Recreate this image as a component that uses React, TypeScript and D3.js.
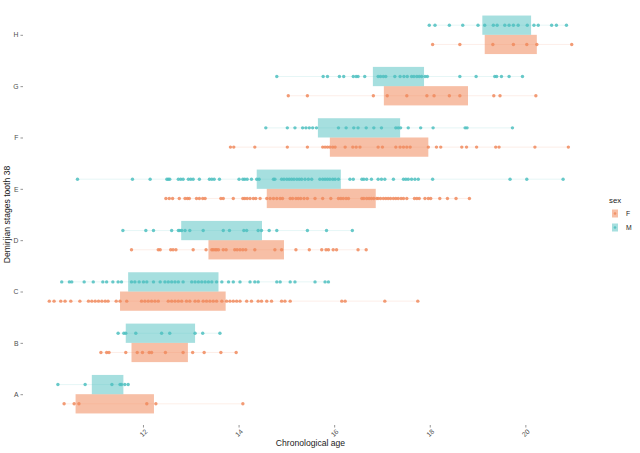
import { useEffect, useRef } from 'react';
import * as d3 from 'd3';

// Demirjian stage of tooth 38 vs chronological age, split by sex
const stages = ['A', 'B', 'C', 'D', 'E', 'F', 'G', 'H'];
const sexes = ['F', 'M'];
const xTicks = [12, 14, 16, 18, 20];

// box extents (lower / upper) per stage
const femaleBoxLow = [10.59, 11.76, 11.52, 13.37, 14.59, 15.91, 17.04, 19.15];
const femaleBoxHigh = [12.23, 12.94, 13.73, 14.95, 16.87, 17.97, 18.8, 20.24];
const maleBoxLow = [10.93, 11.64, 11.69, 12.8, 14.38, 15.66, 16.81, 19.1];
const maleBoxHigh = [11.59, 13.09, 13.58, 14.49, 16.14, 17.38, 17.88, 20.12];

// individual ages
const agesFA = [10.35, 10.56, 10.66, 12.08, 12.27, 14.09];
const agesMA = [10.22, 10.79, 11.35, 11.52, 11.55, 11.62, 11.69];
const agesFB = [11.12, 11.24, 11.29, 11.64, 11.88, 11.99, 12.13, 12.18, 12.47, 12.84, 13.04, 13.28, 13.63, 13.95];
const agesMB = [11.48, 11.6, 11.64, 11.85, 12.39, 12.56, 13.09, 13.25, 13.61];
const agesFC = [10.04, 10.14, 10.28, 10.37, 10.49, 10.68, 10.86, 10.93, 11.0, 11.07, 11.14, 11.21, 11.27, 11.44, 11.52, 11.66, 11.97, 12.04, 12.11, 12.18, 12.25, 12.32, 12.53, 12.6, 12.67, 12.74, 12.81, 12.91, 12.98, 13.09, 13.16, 13.26, 13.33, 13.4, 13.47, 13.54, 13.65, 13.75, 13.82, 13.89, 13.96, 14.03, 14.17, 14.27, 14.41, 14.48, 14.59, 14.69, 14.9, 14.97, 15.08, 16.16, 16.23, 17.06, 17.75];
const agesMC = [10.3, 10.46, 10.51, 10.77, 10.96, 11.16, 11.24, 11.37, 11.48, 11.55, 11.76, 11.83, 11.92, 12.01, 12.08, 12.22, 12.36, 12.46, 12.53, 12.6, 12.67, 12.74, 12.84, 13.02, 13.09, 13.16, 13.23, 13.3, 13.37, 13.44, 13.54, 13.65, 13.79, 13.89, 14.03, 14.24, 14.34, 14.41, 14.8, 14.87, 15.08, 15.18, 15.6, 15.81, 15.88];
const agesFD = [11.76, 12.32, 12.36, 12.58, 12.63, 12.69, 13.05, 13.32, 13.44, 13.47, 13.51, 13.54, 13.58, 13.68, 13.74, 13.92, 13.97, 14.03, 14.09, 14.15, 14.34, 14.76, 14.9, 15.2, 15.48, 15.74, 15.83, 15.88, 15.98, 16.05, 16.5, 16.67];
const agesMD = [11.58, 12.06, 12.22, 12.6, 12.74, 12.77, 12.81, 12.88, 12.98, 13.26, 13.68, 13.81, 14.11, 14.17, 14.41, 14.48, 14.64, 14.8, 15.44, 15.84, 16.38];
const agesFE = [12.48, 12.55, 12.62, 12.76, 12.88, 12.93, 12.97, 13.12, 13.18, 13.25, 13.3, 13.63, 13.68, 13.89, 14.09, 14.13, 14.18, 14.24, 14.31, 14.36, 14.45, 14.59, 14.66, 14.73, 14.8, 14.87, 14.92, 15.08, 15.13, 15.2, 15.25, 15.3, 15.37, 15.44, 15.6, 15.76, 15.93, 16.09, 16.14, 16.19, 16.25, 16.3, 16.58, 16.62, 16.68, 16.73, 16.78, 16.83, 16.89, 16.92, 16.97, 17.03, 17.08, 17.13, 17.18, 17.24, 17.29, 17.34, 17.4, 17.45, 17.52, 17.68, 17.73, 17.78, 17.9, 17.97, 18.02, 18.21, 18.37, 18.55, 18.83];
const agesME = [10.63, 11.78, 12.15, 12.5, 12.53, 12.56, 12.74, 12.79, 12.84, 12.95, 13.0, 13.05, 13.18, 13.39, 13.44, 13.49, 13.6, 14.01, 14.09, 14.13, 14.18, 14.27, 14.38, 14.43, 14.73, 14.76, 14.9, 14.95, 15.01, 15.06, 15.11, 15.16, 15.22, 15.27, 15.32, 15.39, 15.46, 15.53, 15.7, 15.76, 15.81, 15.86, 15.91, 15.97, 16.02, 16.09, 16.33, 16.4, 16.58, 16.62, 16.68, 16.78, 16.92, 16.99, 17.06, 17.24, 17.45, 17.5, 17.55, 17.62, 17.69, 17.76, 18.06, 19.68, 20.03, 20.79];
const agesFF = [13.83, 13.9, 14.34, 15.02, 15.44, 15.76, 15.81, 15.86, 15.91, 15.97, 16.02, 16.23, 16.39, 16.46, 16.54, 16.92, 17.01, 17.29, 17.38, 17.45, 17.52, 17.59, 17.97, 18.14, 18.23, 18.67, 18.77, 18.98, 19.38, 19.45, 20.2, 20.9];
const agesMF = [14.57, 15.02, 15.18, 15.34, 15.41, 15.48, 15.55, 15.63, 16.09, 16.25, 16.41, 16.5, 16.67, 16.83, 16.99, 17.29, 17.34, 17.39, 17.55, 17.81, 18.07, 18.74, 18.78, 19.73];
const agesFG = [15.04, 15.44, 16.82, 17.11, 17.52, 17.94, 18.09, 18.41, 18.63, 19.34, 19.47, 20.22];
const agesMG = [14.8, 15.77, 15.86, 16.11, 16.2, 16.4, 16.46, 16.5, 16.64, 16.92, 16.97, 17.03, 17.08, 17.27, 17.38, 17.46, 17.53, 17.62, 17.67, 17.73, 17.78, 17.83, 17.9, 17.95, 18.63, 18.97, 19.36, 19.4, 19.5, 19.66, 19.94];
const agesFH = [18.06, 18.63, 19.32, 19.75, 20.03, 20.24, 20.97];
const agesMH = [17.99, 18.11, 18.41, 18.69, 19.01, 19.15, 19.33, 19.41, 19.57, 19.66, 19.75, 19.85, 20.04, 20.18, 20.27, 20.55, 20.65, 20.86];

const femaleAges = [agesFA, agesFB, agesFC, agesFD, agesFE, agesFF, agesFG, agesFH];
const maleAges = [agesMA, agesMB, agesMC, agesMD, agesME, agesMF, agesMG, agesMH];

const colors: Record<string, string> = { F: '#F08A5D', M: '#4DBFC0' };

interface Group {
  stage: string;
  sex: string;
  low: number;
  high: number;
  ages: number[];
}

const App = () => {
  const chartRef = useRef<SVGSVGElement>(null);

  useEffect(() => {
    if (!chartRef.current) return;
    d3.select(chartRef.current).selectAll('*').remove();

    const width = 640;
    const height = 453;
    const panel = { left: 23, right: 598, top: 4, bottom: 425 };
    const font = '"Liberation Sans", Arial, sans-serif';

    const svg = d3.select(chartRef.current)
      .attr('width', width)
      .attr('height', height)
      .style('font-family', font);

    svg.append('rect').attr('width', width).attr('height', height).attr('fill', '#fff');

    const x = d3.scaleLinear().domain([9.49, 21.52]).range([panel.left, panel.right]);
    const y = d3.scalePoint<string>()
      .domain([...stages].reverse())
      .range([panel.top, panel.bottom])
      .padding(0.6);
    const step = y.step();
    const dodge = d3.scaleBand<string>().domain(['M', 'F']).range([-step * 0.375, step * 0.375]);

    const groups: Group[] = [];
    stages.forEach((s, i) => {
      groups.push({ stage: s, sex: 'F', low: femaleBoxLow[i], high: femaleBoxHigh[i], ages: femaleAges[i] });
      groups.push({ stage: s, sex: 'M', low: maleBoxLow[i], high: maleBoxHigh[i], ages: maleAges[i] });
    });
    const rowY = (g: Group) => (y(g.stage) ?? 0) + (dodge(g.sex) ?? 0) + dodge.bandwidth() / 2;

    // range lines
    svg.append('g').selectAll('line')
      .data(groups)
      .enter()
      .append('line')
      .attr('x1', d => x(d3.min(d.ages) ?? 0))
      .attr('x2', d => x(d3.max(d.ages) ?? 0))
      .attr('y1', rowY)
      .attr('y2', rowY)
      .attr('stroke', d => colors[d.sex])
      .attr('stroke-opacity', 0.18)
      .attr('stroke-width', 0.8);

    // boxes
    svg.append('g').selectAll('rect')
      .data(groups)
      .enter()
      .append('rect')
      .attr('x', d => x(d.low))
      .attr('width', d => x(d.high) - x(d.low))
      .attr('y', d => (y(d.stage) ?? 0) + (dodge(d.sex) ?? 0))
      .attr('height', dodge.bandwidth())
      .attr('fill', d => colors[d.sex])
      .attr('fill-opacity', d => (d.sex === 'F' ? 0.55 : 0.5));

    // points
    const pts = groups.flatMap(g => g.ages.map(a => ({ age: a, g })));
    svg.append('g').selectAll('circle')
      .data(pts)
      .enter()
      .append('circle')
      .attr('cx', d => x(d.age))
      .attr('cy', d => rowY(d.g))
      .attr('r', 1.7)
      .attr('fill', d => colors[d.g.sex])
      .attr('fill-opacity', 0.85);

    // x axis
    const xAxis = svg.append('g')
      .attr('transform', `translate(0,${panel.bottom})`)
      .call(d3.axisBottom(x).tickValues(xTicks).tickSize(2.5).tickFormat(d => `${d}`));
    xAxis.select('.domain').remove();
    xAxis.selectAll('line').attr('stroke', '#4d4d4d').attr('stroke-width', 0.6);
    xAxis.selectAll('text')
      .attr('x', 0)
      .attr('y', 0)
      .attr('dy', '0.35em')
      .attr('transform', 'translate(0,8) rotate(-45)')
      .style('text-anchor', 'middle')
      .style('font-size', '6.8px')
      .style('font-family', font)
      .attr('fill', '#4d4d4d');

    // y axis
    const yAxis = svg.append('g')
      .attr('transform', `translate(${panel.left},0)`)
      .call(d3.axisLeft(y).tickSize(2.5).tickPadding(2));
    yAxis.select('.domain').remove();
    yAxis.selectAll('line').attr('stroke', '#4d4d4d').attr('stroke-width', 0.6);
    yAxis.selectAll('text')
      .style('font-size', '6.8px')
      .style('font-family', font)
      .attr('fill', '#4d4d4d');

    // axis titles
    svg.append('text')
      .attr('x', (panel.left + panel.right) / 2)
      .attr('y', 443)
      .attr('dy', '0.35em')
      .style('text-anchor', 'middle')
      .style('font-size', '8.6px')
      .attr('fill', '#1a1a1a')
      .text('Chronological age');

    svg.append('text')
      .attr('transform', `translate(7,${(panel.top + panel.bottom) / 2}) rotate(-90)`)
      .attr('dy', '0.35em')
      .style('text-anchor', 'middle')
      .style('font-size', '8.6px')
      .attr('fill', '#1a1a1a')
      .text('Demirjian stages tooth 38');

    // legend
    const legend = svg.append('g').attr('transform', 'translate(609,200)');
    legend.append('text')
      .attr('x', 0)
      .attr('y', 0)
      .attr('dy', '0.35em')
      .style('font-size', '7.8px')
      .attr('fill', '#1a1a1a')
      .text('sex');
    sexes.forEach((s, i) => {
      const k = legend.append('g').attr('transform', `translate(3,${9.5 + i * 14})`);
      k.append('rect')
        .attr('width', 6)
        .attr('height', 8)
        .attr('fill', colors[s])
        .attr('fill-opacity', s === 'F' ? 0.55 : 0.5);
      k.append('circle')
        .attr('cx', 3)
        .attr('cy', 4)
        .attr('r', 1.3)
        .attr('fill', colors[s])
        .attr('fill-opacity', 0.85);
      k.append('text')
        .attr('x', 14)
        .attr('y', 4)
        .attr('dy', '0.35em')
        .style('font-size', '6.8px')
        .attr('fill', '#1a1a1a')
        .text(s);
    });
  }, []);

  return (
    <div style={{ position: 'absolute', left: 0, top: 0 }}>
      <svg ref={chartRef} style={{ display: 'block' }} />
    </div>
  );
};

export default App;
